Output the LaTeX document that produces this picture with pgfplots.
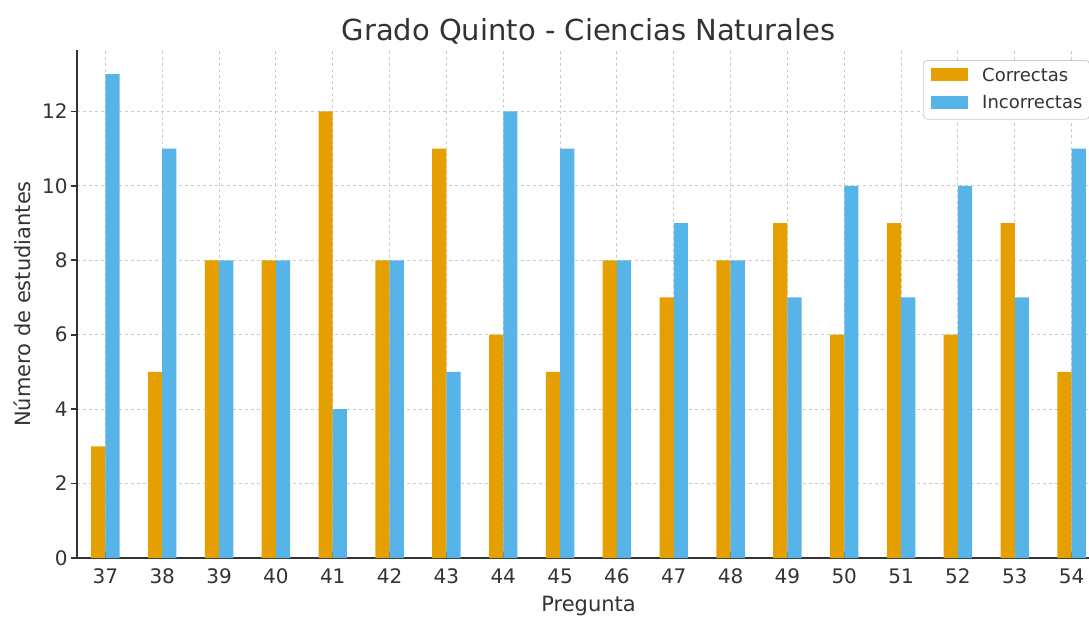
\documentclass[border=0pt]{standalone}
\usepackage{fontspec}
\setmainfont{DejaVu Sans}
\usepackage{pgfplots}
\pgfplotsset{compat=1.18}
\definecolor{correcta}{HTML}{E69F00}
\definecolor{incorrecta}{HTML}{56B4E9}
\definecolor{txt}{HTML}{333333}

\begin{document}
\begin{tikzpicture}
\begin{axis}[
    scale only axis,
    width=511.5pt, height=254pt,
    xmin=36.5, xmax=54.5,
    ymin=0, ymax=13.65,
    axis x line*=bottom, axis y line*=left,
    axis line style={txt, line width=0.8pt},
    xtick={37,...,54},
    ytick={0,2,...,12},
    tick align=inside,
    major tick length=3pt,
    tick style={txt, line width=0.8pt},
    ytick style={xshift=-3pt},
    grid=major,
    grid style={black!20, line width=0.5pt, dash pattern=on 1.6pt off 1.4pt},
    /pgf/number format/assume math mode=true,
    ticklabel style={font=\fontsize{10}{12}\selectfont, text=txt},
    xticklabel style={anchor=base, yshift=-12.5pt},
    yticklabel style={anchor=east, inner xsep=0pt, xshift=-4.5pt},
    title={Grado Quinto - Ciencias Naturales},
    title style={at={(axis description cs:0.5,1.0197)}, anchor=base, yshift=-6.5pt,
        font=\fontsize{14.5}{17}\selectfont, text=txt},
    xlabel={Pregunta},
    xlabel style={at={(axis description cs:0.5,-0.1063)}, anchor=base,
        font=\fontsize{10.5}{12}\selectfont, text=txt},
    ylabel={Número de estudiantes},
    ylabel style={at={(axis description cs:-0.0538,0.5)}, anchor=center,
        font=\fontsize{10.5}{12}\selectfont, text=txt},
    legend cell align=left,
    legend image code/.code={\fill[#1, sharp corners] (0pt,-2.5pt) rectangle (18.5pt,4pt);},
    legend style={
        at={(rel axis cs:1,1)}, anchor=north east, xshift=-5pt, yshift=-5pt,
        draw=black!20, rounded corners=2pt, fill=white,
        font=\fontsize{9}{11}\selectfont, text=txt,
        inner xsep=3.6pt, inner ysep=1pt, row sep=0pt,
        nodes={inner xsep=0pt, inner ysep=2.5pt, text height=6.8pt, text depth=1.9pt},
        /tikz/every odd column/.append style={column sep=7.35pt},
    },
]
\addplot[ybar, bar width=0.25, bar shift=-0.125, fill=correcta, draw=none]
coordinates {
    (37,3) (38,5) (39,8) (40,8) (41,12) (42,8) (43,11) (44,6) (45,5)
    (46,8) (47,7) (48,8) (49,9) (50,6) (51,9) (52,6) (53,9) (54,5)
};
\addplot[ybar, bar width=0.25, bar shift=0.125, fill=incorrecta, draw=none]
coordinates {
    (37,13) (38,11) (39,8) (40,8) (41,4) (42,8) (43,5) (44,12) (45,11)
    (46,8) (47,9) (48,8) (49,7) (50,10) (51,7) (52,10) (53,7) (54,11)
};
\legend{Correctas, Incorrectas}
\end{axis}
\pgfresetboundingbox
\path[use as bounding box] (-38.5pt,-29.5pt) rectangle (506pt,279pt);
\end{tikzpicture}
\end{document}
